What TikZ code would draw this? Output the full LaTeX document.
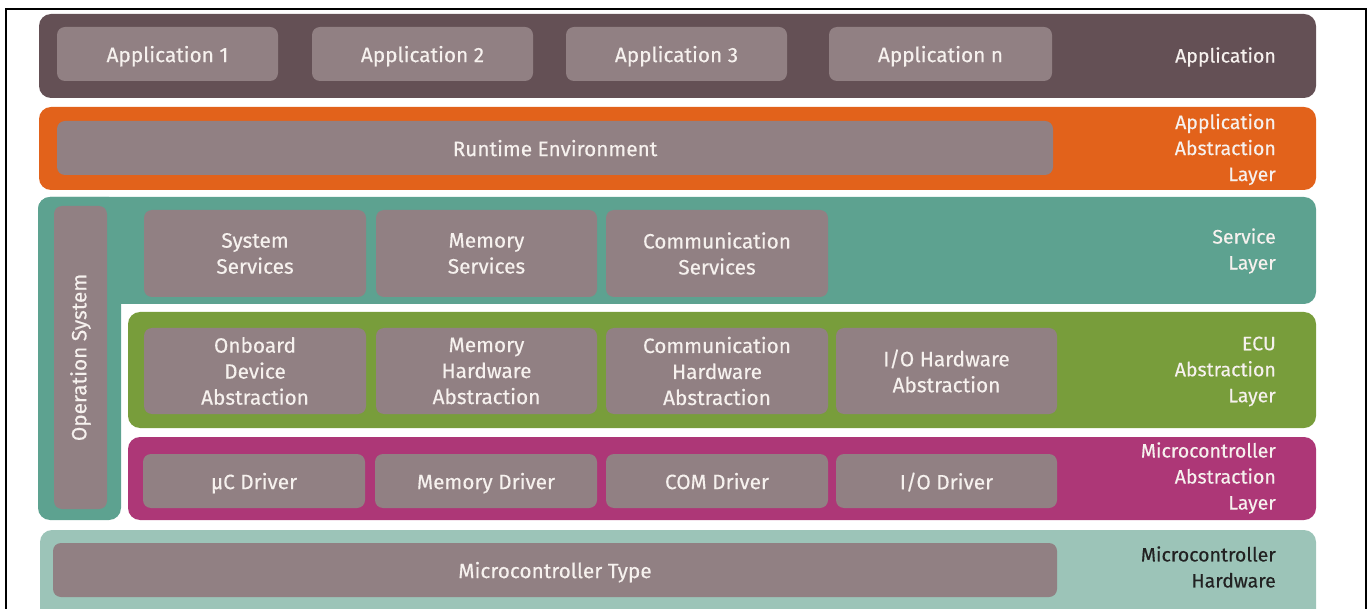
\documentclass[tikz,border=0pt]{standalone}
\usepackage{fontspec}
\setmainfont{Fira Sans}[UprightFeatures={FakeBold=0.3}]
\definecolor{appband}{HTML}{645055}
\definecolor{boxgrey}{HTML}{918083}
\definecolor{orangeband}{HTML}{E2621B}
\definecolor{tealband}{HTML}{5DA290}
\definecolor{greenband}{HTML}{789D3B}
\definecolor{magband}{HTML}{AD3777}
\definecolor{lightteal}{HTML}{9CC4B8}
\definecolor{labelwhite}{HTML}{F6F1EE}
\definecolor{darktext}{HTML}{222222}
\begin{document}
\begin{tikzpicture}[x=1pt,y=-1pt,
  band/.style={fill=#1, draw=none, rounded corners=12pt, inner sep=0pt, anchor=center},
  gbox/.style={fill=boxgrey, draw=none, rounded corners=8pt, inner sep=0pt, anchor=center,
    text=labelwhite, align=center, font=\fontsize{20.8}{26}\selectfont},
  oneline/.style={text depth=0pt},
  layerlabel/.style={anchor=east, align=right, inner sep=0pt, text=labelwhite,
    font=\fontsize{19.5}{26}\selectfont}]
\useasboundingbox (0,0) rectangle (1370,609);
% frame
\draw[line width=2pt, black] (6,615) -- (6,9) -- (1366,9) -- (1366,615);

% bands
\node[band=appband, minimum width=1277pt, minimum height=84pt] (appL) at (677.5,56) {};
\node[band=orangeband, minimum width=1277pt, minimum height=83pt] (aalL) at (677.5,148.5) {};
\node[band=tealband, minimum width=1278pt, minimum height=107pt] (svcL) at (677,250.5) {};
\node[band=tealband, minimum width=83pt, minimum height=323pt] (osL) at (79.5,358.5) {};
\fill[tealband] (60,240) rectangle (121,304);
\node[band=greenband, minimum width=1188pt, minimum height=116pt] (ecuL) at (722,370) {};
\node[band=magband, minimum width=1188pt, minimum height=83pt] (mcalL) at (722,478.5) {};
\node[band=lightteal, minimum width=1276pt, minimum height=100pt] (hwL) at (678,580) {};

% application
\node[gbox, oneline, minimum width=221pt, minimum height=54pt] (a1) at (167.5,54) {Application 1};
\node[gbox, oneline, minimum width=221pt, minimum height=54pt] (a2) at (422.5,54) {Application 2};
\node[gbox, oneline, minimum width=221pt, minimum height=54pt] (a3) at (676.5,54) {Application 3};
\node[gbox, oneline, minimum width=223pt, minimum height=54pt] (an) at (940.5,54) {Application n};
\node[gbox, oneline, minimum width=996pt, minimum height=54pt] (rte) at (555,148) {Runtime Environment};

% services
\node[gbox, minimum width=222pt, minimum height=87pt] (ss) at (255,253.5) {System\\Services};
\node[gbox, minimum width=221pt, minimum height=87pt] (ms) at (486.5,253.5) {Memory\\Services};
\node[gbox, minimum width=222pt, minimum height=87pt] (cs) at (717,253.5) {Communication\\Services};

% ECU abstraction
\node[gbox, minimum width=222pt, minimum height=86pt] (oda) at (255,371) {Onboard\\Device\\Abstraction};
\node[gbox, minimum width=221pt, minimum height=86pt] (mha) at (486.5,371) {Memory\\Hardware\\Abstraction};
\node[gbox, minimum width=222pt, minimum height=86pt] (cha) at (717,371) {Communication\\Hardware\\Abstraction};
\node[gbox, minimum width=221pt, minimum height=86pt] (ioha) at (946.5,371) {I/O Hardware\\Abstraction};

% drivers
\node[gbox, oneline, minimum width=222pt, minimum height=54pt] (ucd) at (254,481) {µC Driver};
\node[gbox, oneline, minimum width=222pt, minimum height=54pt] (md) at (486,481) {Memory Driver};
\node[gbox, oneline, minimum width=222pt, minimum height=54pt] (comd) at (717,481) {COM Driver};
\node[gbox, oneline, minimum width=221pt, minimum height=54pt] (iod) at (946.5,481) {I/O Driver};

% operating system
\node[gbox, minimum width=53pt, minimum height=303pt] (os) at (80.5,357.5) {};
\node[rotate=90, text=labelwhite, font=\fontsize{20.8}{26}\selectfont, inner sep=0pt] (ostext) at (os.center) {Operation System};

% hardware
\node[gbox, oneline, minimum width=1004pt, minimum height=54pt] (mt) at (555,570) {Microcontroller Type};

% layer labels
\node[layerlabel] (l1) at (1276,57) {Application};
\node[layerlabel] (l2) at (1276,149.5) {Application\\Abstraction\\Layer};
\node[layerlabel] (l3) at (1276,251) {Service\\Layer};
\node[layerlabel] (l4) at (1276,371.5) {ECU\\Abstraction\\Layer};
\node[layerlabel] (l5) at (1276,478) {Microcontroller\\Abstraction\\Layer};
\node[layerlabel, text=darktext] (l6) at (1276,567) {Microcontroller\\Hardware};
\end{tikzpicture}
\end{document}
